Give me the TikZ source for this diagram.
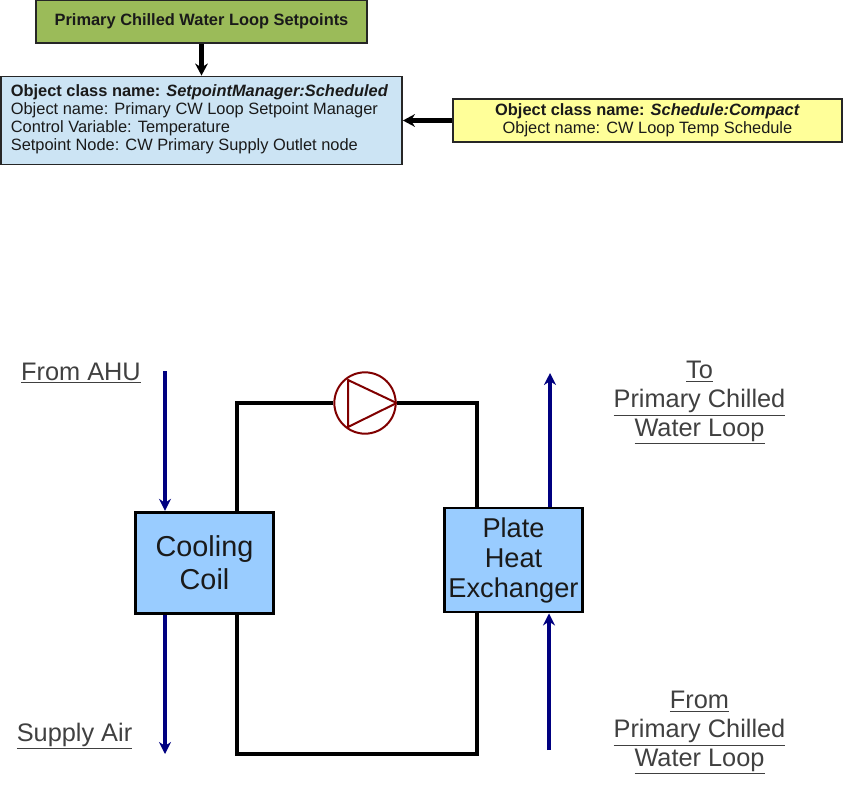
\documentclass[tikz,border=0pt]{standalone}
\usepackage{fontspec}
\setmainfont{Liberation Sans}
\usepackage{xcolor}
\usetikzlibrary{arrows.meta,positioning}
\definecolor{setgreen}{HTML}{9BBB59}
\definecolor{mgrblue}{HTML}{CCE4F4}
\definecolor{schedyellow}{HTML}{FFFF99}
\definecolor{coilblue}{HTML}{99CCFF}
\definecolor{airnavy}{HTML}{000080}
\definecolor{pumpred}{HTML}{800000}
\definecolor{edge}{HTML}{262626}
\definecolor{ink}{HTML}{1A1A1A}
\newcommand{\objclass}[1]{\textbf{Object class name: \textit{#1}}}

\begin{document}
\begin{tikzpicture}[
  x=0.75pt, y=-0.75pt,
  font=\fontsize{12.3}{13.5}\selectfont,
  text=ink,
  note/.style={draw=edge, line width=1.1pt, inner sep=0pt, align=center},
  unit/.style={draw=black, line width=2.2pt, fill=coilblue, align=center, inner sep=0pt,
               minimum width=103pt},
  tag/.style={align=center, inner sep=0pt, text=black!75, font=\fontsize{19}{21.6}\selectfont},
  pipe/.style={line width=3.6pt, draw=black, line join=miter},
  feed/.style={-{Stealth[length=9pt, width=9.5pt]}, line width=3.6pt, draw=black},
  flow/.style={-{Stealth[length=9pt, width=9pt]}, line width=3.7pt, draw=airnavy}
]
  \useasboundingbox (0,0) rectangle (845,788);

  % control objects
  \node[note, fill=setgreen, minimum width=248pt, minimum height=32pt] (setpts) at (201.5,21.5)
    {\raisebox{-0.7pt}{\textbf{Primary Chilled Water Loop Setpoints}}};
  \node[note, fill=mgrblue, minimum width=301pt, minimum height=66pt, below=24pt of setpts] (mgr)
    {\hspace*{-3pt}\raisebox{-2.2pt}{\begin{tabular}{@{}l@{}}\objclass{SetpointManager:Scheduled}\\
     Object name: Primary CW Loop Setpoint Manager\\
     Control Variable: Temperature\\
     Setpoint Node: CW Primary Supply Outlet node\end{tabular}}};
  \node[note, fill=schedyellow, minimum width=292pt, minimum height=32pt] (sched) at (647.5,120.5)
    {\raisebox{-1.5pt}{\begin{tabular}{@{}c@{}}\objclass{Schedule:Compact}\\
     Object name: CW Loop Temp Schedule\end{tabular}}};

  \draw[feed] (setpts) -- (mgr);
  \draw[feed] (sched) -- (sched -| mgr.east);

  % plant loop
  \node[unit, minimum height=76pt, font=\fontsize{21.6}{25}\selectfont] (coil) at (204.5,563) {Cooling\\Coil};
  \node[unit, minimum height=78pt, font=\fontsize{20.4}{22.5}\selectfont] (hx) at (513.5,560) {Plate\\Heat\\Exchanger};
  \node[circle, draw=pumpred, line width=1.5pt, minimum size=46pt, inner sep=0pt] (pump) at (365,403) {};
  \draw[pumpred, line width=1.5pt, line join=round] (348,380) -- (pump.east) -- (348,427) -- cycle;

  \coordinate (pipetl) at (237,403);
  \coordinate (pipetr) at (477,403);
  \coordinate (pipebl) at (237,754);
  \coordinate (pipebr) at (477,754);
  \draw[pipe] (pipetl |- coil.north) -- (pipetl) -- (pump.west);
  \draw[pipe] (pump.east) -- (pipetr) -- (pipetr |- hx.north);
  \draw[pipe] (pipebl |- coil.south) -- (pipebl) -- (pipebr) -- (pipebr |- hx.south);

  \coordinate (airin) at (165,371);
  \coordinate (airout) at (165,754);
  \coordinate (cwout) at (550,373);
  \coordinate (cwin) at (549,750);
  \draw[flow] (airin) -- (airin |- coil.north);
  \draw[flow] (airin |- coil.south) -- (airout);
  \draw[flow] (cwout |- hx.north) -- (cwout);
  \draw[flow] (cwin) -- (cwin |- hx.south);

  % labels
  \node[tag] (fromahu) at (81,373) {\underline{From AHU}};
  \node[tag] (supply) at (74.5,736) {\underline{Supply Air}};
  \node[tag] (toprim) at (699.5,403) {\underline{To}\\\underline{Primary Chilled}\\\underline{Water Loop}};
  \node[tag] (fromprim) at (699.5,733) {\underline{From}\\\underline{Primary Chilled}\\\underline{Water Loop}};
\end{tikzpicture}
\end{document}
